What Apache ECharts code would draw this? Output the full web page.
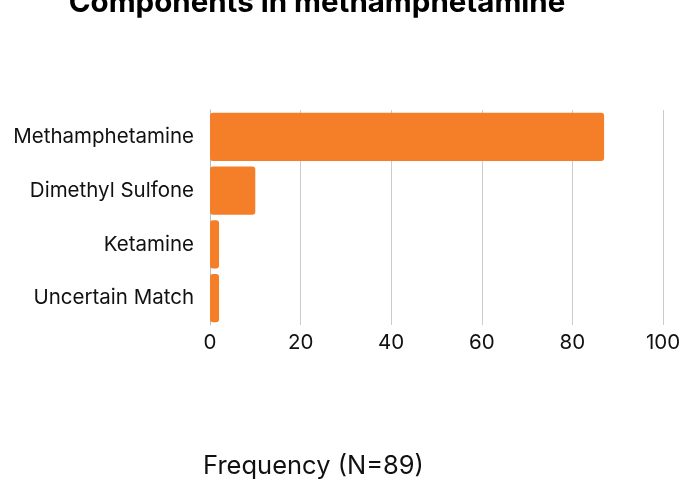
<!DOCTYPE html>
<html><head><meta charset="utf-8">
<script src="https://cdn.jsdelivr.net/npm/echarts@6/dist/echarts.min.js"></script>
<style>html,body{margin:0;padding:0;background:#fff}#c{width:696px;height:480px}</style>
</head><body><div id="c"></div>
<script>
const categories = ["Methamphetamine", "Dimethyl Sulfone", "Ketamine", "Uncertain Match"];
const values = [87, 10, 2, 2];
const xTicks = [0, 20, 40, 60, 80, 100];
const titleText = "Components in methamphetamine";
const xName = "Frequency (N=89)";

const chart = echarts.init(document.getElementById('c'), null, {renderer: 'canvas'});
chart.setOption({
  animation: false,
  title: {
    text: titleText,
    left: 312, textAlign: 'center', top: -17,
    textStyle: {fontFamily: 'Inter', fontWeight: 'bold', fontSize: 29.5, color: '#000'}
  },
  grid: {left: 210, right: 33, top: 110, bottom: 154, containLabel: false},
  xAxis: {
    type: 'value', min: xTicks[0], max: xTicks[xTicks.length-1], interval: 20,
    name: xName, nameLocation: 'middle', nameGap: 128,
    nameTextStyle: {fontFamily: 'Inter', fontSize: 25.5, color: '#111', padding: [0, 246, 0, 0]},
    axisLine: {show: false}, axisTick: {show: false},
    axisLabel: {fontFamily: 'Inter', fontSize: 20.5, color: '#111', margin: 7},
    splitLine: {show: true, lineStyle: {color: '#cccccc', width: 1}}
  },
  yAxis: {
    type: 'category', data: categories, inverse: true,
    axisLine: {show: true, lineStyle: {color: '#bbbbbb', width: 1}},
    axisTick: {show: false},
    axisLabel: {fontFamily: 'Inter', fontSize: 20.5, color: '#111', margin: 16}
  },
  series: [{
    type: 'bar', data: values, barCategoryGap: '10%',
    itemStyle: {color: '#F57F29', borderRadius: 3}
  }]
});
</script></body></html>
